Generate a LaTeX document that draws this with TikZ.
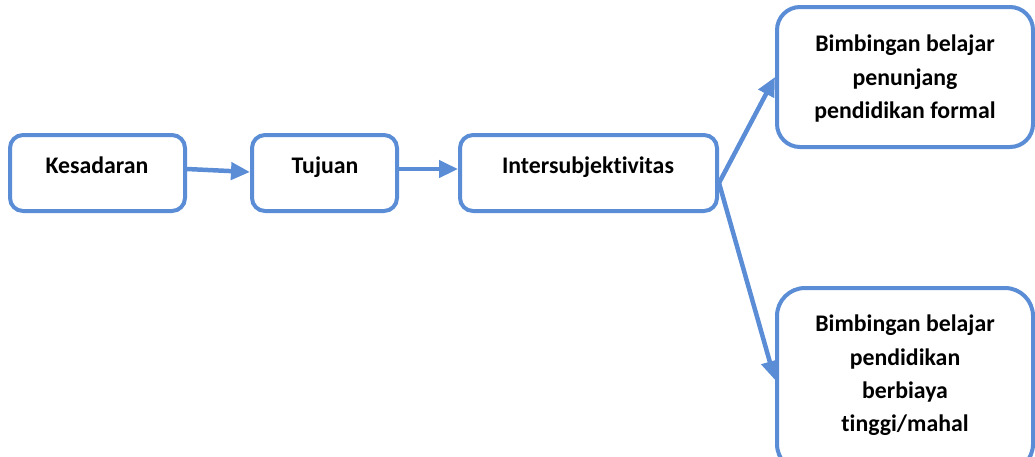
\documentclass[tikz,border=0pt]{standalone}
\usepackage{fontspec}
\setmainfont[Ligatures=NoCommon]{Carlito}
\usetikzlibrary{arrows.meta}
\definecolor{boxblue}{HTML}{5A8DD6}
\begin{document}
\begin{tikzpicture}[x=1pt,y=-1pt,
  box/.style={draw=boxblue,line width=4pt,fill=white,rounded corners=#1,inner sep=0pt},
  box/.default=13pt,
  txt/.style={anchor=north,inner sep=0pt,align=center,font=\bfseries\fontsize{23.8}{33.3}\selectfont},
  conn/.style={draw=boxblue,line width=4.5pt,-{Triangle[length=19pt,width=17pt]}}]
\useasboundingbox (0,0) rectangle (1035,456);
\node[box,minimum width=175pt,minimum height=76pt] (b1) at (97.5,173) {};
\node[box,minimum width=145pt,minimum height=76pt] (b2) at (324.5,173) {};
\node[box,minimum width=257pt,minimum height=76pt] (b3) at (588.5,173) {};
\node[box=23pt,minimum width=256pt,minimum height=140pt] (b4) at (905,77) {};
\node[box=28pt,minimum width=256pt,minimum height=184pt] (b5) at (905,380) {};
\node[txt] (t1) at (97,157) {Kesadaran};
\node[txt] (t2) at (325,157) {Tujuan};
\node[txt] (t3) at (588,157) {Intersubjektivitas};
\node[txt] (t4) at (905,35) {Bimbingan belajar\\penunjang\\pendidikan formal};
\node[txt] (t5) at (905,315) {Bimbingan belajar\\pendidikan\\berbiaya\\tinggi/mahal};
\draw[conn] ([yshift=4pt]b1.east) -- ([yshift=1pt]b2.west);
\draw[conn] ([yshift=4pt]b2.east) -- ([yshift=4pt]b3.west);
\draw[conn] ([yshift=-10pt]b3.east) -- (b4.west);
\draw[conn] ([yshift=-10pt]b3.east) -- (b5.west);
\end{tikzpicture}
\end{document}
